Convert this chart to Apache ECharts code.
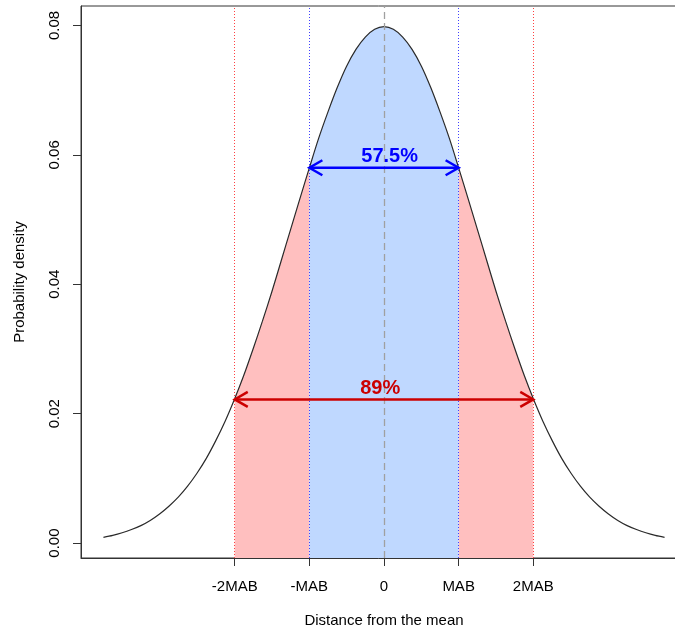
<!DOCTYPE html>
<html>
<head>
<meta charset="utf-8">
<script src="https://cdn.jsdelivr.net/npm/echarts@6/dist/echarts.min.js"></script>
<style>
html, body { margin: 0; padding: 0; background: #fff; }
#chart { width: 675px; height: 632px; }
</style>
</head>
<body>
<div id="chart"></div>
<script>
// density, x = distance from the mean
var curveX = [-15, -14.5, -14, -13.5, -13, -12.5, -12, -11.5, -11, -10.5, -10, -9.5, -9, -8.5, -8, -7.5,
  -7, -6.5, -6, -5.5, -5, -4.5, -4, -3.5, -3, -2.5, -2, -1.5, -1, -0.5, 0,
  0.5, 1, 1.5, 2, 2.5, 3, 3.5, 4, 4.5, 5, 5.5, 6, 6.5, 7,
  7.5, 8, 8.5, 9, 9.5, 10, 10.5, 11, 11.5, 12, 12.5, 13, 13.5, 14, 14.5, 15]
var curveY = [0.0009, 0.0012, 0.0016, 0.0021, 0.0027, 0.0035, 0.0045, 0.0057, 0.0071, 0.0088, 0.0108, 0.0131, 0.0158, 0.0188, 0.0222, 0.0259,
  0.0300, 0.0343, 0.0388, 0.0436, 0.0484, 0.0532, 0.0579, 0.0625, 0.0666, 0.0704, 0.0737, 0.0763, 0.0782, 0.0794, 0.0798,
  0.0794, 0.0782, 0.0763, 0.0737, 0.0704, 0.0666, 0.0625, 0.0579, 0.0532, 0.0484, 0.0436, 0.0388, 0.0343, 0.0300,
  0.0259, 0.0222, 0.0188, 0.0158, 0.0131, 0.0108, 0.0088, 0.0071, 0.0057, 0.0045, 0.0035, 0.0027, 0.0021, 0.0016, 0.0012, 0.0009]

// -2MAB, -MAB, MAB, 2MAB and the density there
var bandEdges = [-7.98, -3.99, 3.99, 7.98]
var edgeDensity = [0.0223, 0.058, 0.058, 0.0223]

var xTickValues = [-7.98, -3.99, 0, 3.99, 7.98]
var xTickLabels = ['-2MAB', '-MAB', '0', 'MAB', '2MAB']
var yTickValues = [0, 0.02, 0.04, 0.06, 0.08]

var arrowFrom = [-3.99, -7.98]
var arrowTo = [3.99, 7.98]
var arrowY = [0.058, 0.0222]
var arrowText = ['57.5%', '89%']
var arrowTextX = [0.3, -0.2]

var FONT = 'Liberation Sans, Arial, Helvetica, sans-serif'
var arrowColors = ['#0000ff', '#cc0000']

function pairs(xs, ys) {
  return xs.map(function (x, i) { return [x, ys[i]] })
}

// piece of the curve between two edges, closed by the edge points
function piece(i, j) {
  var lo = bandEdges[i], hi = bandEdges[j]
  var pts = [[lo, edgeDensity[i]]]
  curveX.forEach(function (x, k) {
    if (x > lo + 0.25 && x < hi - 0.25) pts.push([x, curveY[k]])
  })
  pts.push([hi, edgeDensity[j]])
  return pts
}

function fill(data, color) {
  return {
    type: 'line',
    data: data,
    smooth: 0.3,
    symbol: 'none',
    silent: true,
    z: 1,
    lineStyle: { width: 0 },
    areaStyle: { color: color, opacity: 1, origin: 'start' },
  }
}

var myChart = echarts.init(document.getElementById('chart'))
var option = {
  animation: false,
  backgroundColor: '#fff',
  grid: {
    left: 81,
    top: 6,
    right: -12,
    bottom: 74,
    show: true,
    borderColor: '#333',
    borderWidth: 1,
    outerBoundsMode: 'none',
    containLabel: false,
  },
  xAxis: {
    type: 'value',
    min: -16.2,
    max: 16.2,
    name: 'Distance from the mean',
    nameLocation: 'middle',
    nameGap: 55,
    nameTextStyle: { fontFamily: FONT, fontSize: 15, color: '#000' },
    axisLine: { show: true, onZero: false, lineStyle: { color: '#333' } },
    axisTick: { show: true, length: 8, customValues: xTickValues, lineStyle: { color: '#333' } },
    axisLabel: {
      customValues: xTickValues,
      margin: 21,
      fontFamily: FONT,
      fontSize: 15,
      color: '#000',
      formatter: function (v) {
        var best = 0
        xTickValues.forEach(function (t, i) {
          if (Math.abs(t - v) < Math.abs(xTickValues[best] - v)) best = i
        })
        return xTickLabels[best]
      },
    },
    splitLine: { show: false },
  },
  yAxis: {
    type: 'value',
    min: -0.0023,
    max: 0.083,
    name: 'Probability density',
    nameLocation: 'middle',
    nameGap: 54,
    nameTextStyle: { fontFamily: FONT, fontSize: 15, color: '#000' },
    axisLine: { show: true, onZero: false, lineStyle: { color: '#333' } },
    axisTick: { show: true, length: 8, customValues: yTickValues, lineStyle: { color: '#333' } },
    axisLabel: {
      customValues: yTickValues,
      rotate: 90,
      margin: 19,
      fontFamily: FONT,
      fontSize: 15,
      color: '#000',
      formatter: function (v) { return v.toFixed(2) },
    },
    splitLine: { show: false },
  },
  series: [
    fill(piece(0, 1), '#ffbfbf'),
    fill(piece(2, 3), '#ffbfbf'),
    fill(piece(1, 2), '#bfd8ff'),
    {
      type: 'line',
      data: [],
      silent: true,
      z: 3,
      markLine: {
        silent: true,
        symbol: 'none',
        label: { show: false },
        data: [
          { xAxis: bandEdges[0], lineStyle: { color: '#ff4040', type: [1, 2], width: 1 } },
          { xAxis: bandEdges[3], lineStyle: { color: '#ff4040', type: [1, 2], width: 1 } },
          { xAxis: bandEdges[1], lineStyle: { color: '#4040ff', type: [1, 2], width: 1 } },
          { xAxis: bandEdges[2], lineStyle: { color: '#4040ff', type: [1, 2], width: 1 } },
          { xAxis: 0, lineStyle: { color: '#a0a0a0', type: [7, 4], width: 1.3 } },
        ],
      },
    },
    {
      type: 'line',
      data: pairs(curveX, curveY),
      smooth: 0.3,
      symbol: 'none',
      silent: true,
      z: 4,
      lineStyle: { color: '#2a2a2a', width: 1.2 },
    },
    {
      type: 'custom',
      z: 5,
      silent: true,
      encode: { x: [0, 1, 3], y: 2 },
      data: arrowFrom.map(function (v, i) { return [v, arrowTo[i], arrowY[i], arrowTextX[i]] }),
      renderItem: function (params, api) {
        var c = arrowColors[params.dataIndex]
        var a = api.coord([api.value(0), api.value(2)])
        var b = api.coord([api.value(1), api.value(2)])
        var t = api.coord([api.value(3), api.value(2)])
        var st = { stroke: c, lineWidth: 2.5, fill: null }
        return {
          type: 'group',
          children: [
            { type: 'line', shape: { x1: a[0], y1: a[1], x2: b[0], y2: b[1] }, style: st },
            { type: 'polyline', shape: { points: [[a[0] + 13, a[1] - 7.5], a, [a[0] + 13, a[1] + 7.5]] }, style: st },
            { type: 'polyline', shape: { points: [[b[0] - 13, b[1] - 7.5], b, [b[0] - 13, b[1] + 7.5]] }, style: st },
            {
              type: 'text',
              style: {
                text: arrowText[params.dataIndex],
                x: t[0],
                y: t[1] - 11,
                align: 'center',
                verticalAlign: 'middle',
                fill: c,
                fontFamily: FONT,
                fontSize: 20,
                fontWeight: 'bold',
              },
            },
          ],
        }
      },
    },
  ],
}
myChart.setOption(option)
</script>
</body>
</html>
